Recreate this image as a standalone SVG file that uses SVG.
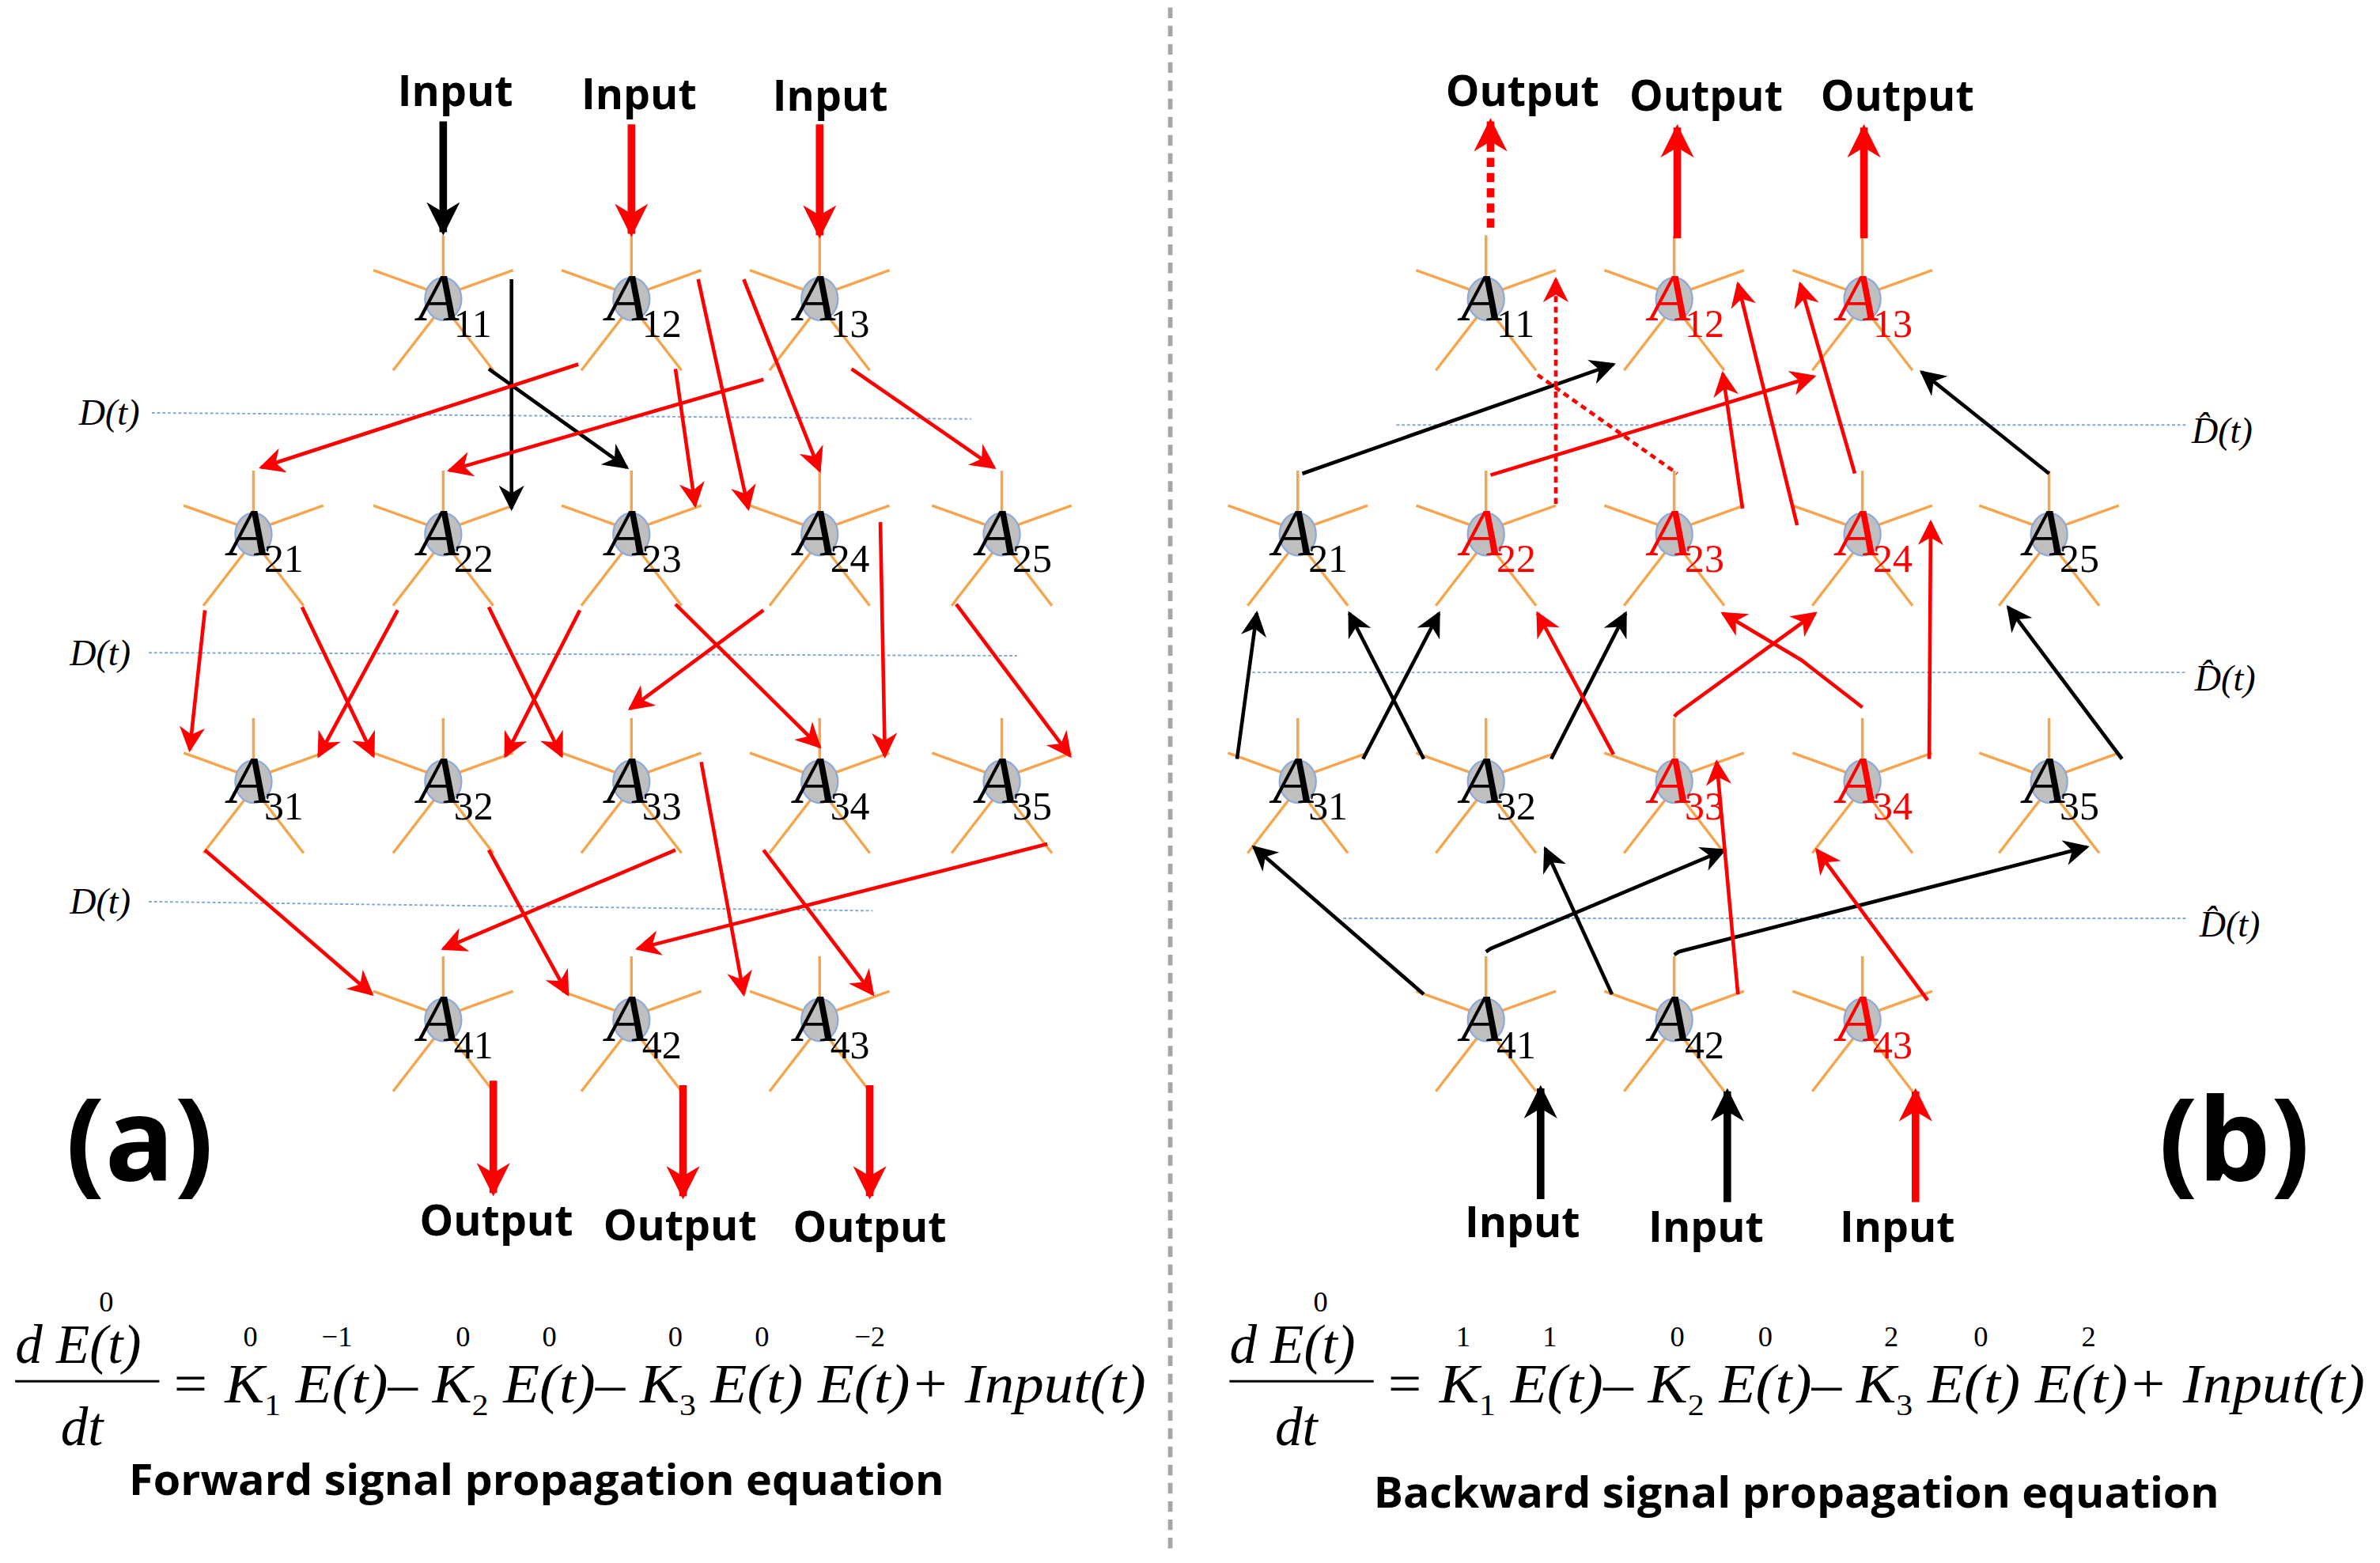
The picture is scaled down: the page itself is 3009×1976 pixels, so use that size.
<svg xmlns="http://www.w3.org/2000/svg" xmlns:xlink="http://www.w3.org/1999/xlink" width="3009" height="1976" viewBox="0 0 3009 1976">
<style>
.sp{stroke:#f6a54f;stroke-width:1.8;fill:none}
.nd{fill:#bfbfbf;stroke:#8eaadb;stroke-width:1.2}
.A{font-family:"Liberation Serif",serif;font-style:italic;font-size:44px;text-anchor:middle}
.s{font-family:"Liberation Serif",serif;font-size:26px}
.r{fill:#ff0000}
.k{fill:#000}
.lr{stroke:#ff0000;stroke-width:2.4;fill:none;marker-end:url(#ar)}
.lk{stroke:#000;stroke-width:2.4;fill:none;marker-end:url(#ak)}
.tr{stroke:#ff0000;stroke-width:5;fill:none;marker-end:url(#tr)}
.tk{stroke:#000;stroke-width:5;fill:none;marker-end:url(#tk)}
.dl{stroke:#7fa7d9;stroke-width:1;stroke-dasharray:2 1.5;fill:none}
.lab{font-family:"Open Sans","Liberation Sans",sans-serif;font-weight:bold;font-size:28px;text-anchor:middle}
.eq{font-family:"Liberation Serif",serif;font-style:italic;font-size:36px}
.sup{font-family:"Liberation Serif",serif;font-size:19px;text-anchor:middle}
.cap{font-family:"Open Sans","Liberation Sans",sans-serif;font-weight:bold;font-size:28px}
.dt{font-family:"Liberation Serif",serif;font-style:italic;font-size:24px}
</style>
<defs>
<marker id="ar" viewBox="0 0 10 10" refX="9" refY="5" markerWidth="7" markerHeight="7" orient="auto"><path d="M0,0 L10,5 L0,10 L3,5 z" fill="#ff0000"/></marker>
<marker id="ak" viewBox="0 0 10 10" refX="9" refY="5" markerWidth="7" markerHeight="7" orient="auto"><path d="M0,0 L10,5 L0,10 L3,5 z" fill="#000"/></marker>
<marker id="tr" viewBox="0 0 10 10" refX="9" refY="5" markerWidth="4.4" markerHeight="4.4" orient="auto"><path d="M0,0 L10,5 L0,10 L3,5 z" fill="#ff0000"/></marker>
<marker id="tk" viewBox="0 0 10 10" refX="9" refY="5" markerWidth="4.4" markerHeight="4.4" orient="auto"><path d="M0,0 L10,5 L0,10 L3,5 z" fill="#000"/></marker>
<g id="star">
<path class="sp" d="M0,-13 V-42 M-10,-6 L-46,-19 M10,-6 L46,-19 M-6,12 L-33,47 M6,12 L33,47"/>
<ellipse class="nd" cx="0" cy="0" rx="12" ry="14"/>
</g>
</defs>
<rect width="3009" height="1976" fill="#fff"/>
<g transform="scale(1.919)">
<line x1="771" y1="5" x2="771" y2="1025" stroke="#a6a6a6" stroke-width="3" stroke-dasharray="7 5"/>
<g id="dlines">
<line class="dl" x1="100" y1="272" x2="640" y2="276"/>
<line class="dl" x1="98" y1="430" x2="670" y2="432"/>
<line class="dl" x1="98" y1="594" x2="575" y2="600"/>
<line class="dl" x1="920" y1="280" x2="1440" y2="280"/>
<line class="dl" x1="825" y1="443" x2="1440" y2="443"/>
<line class="dl" x1="885" y1="605" x2="1440" y2="605"/>
<text class="dt" x="52" y="280">D(t)</text>
<text class="dt" x="46" y="438">D(t)</text>
<text class="dt" x="46" y="602">D(t)</text>
<text class="dt" x="1444" y="292">D̂(t)</text>
<text class="dt" x="1446" y="455">D̂(t)</text>
<text class="dt" x="1449" y="617">D̂(t)</text>
</g>
<g id="L11" transform="translate(292,197)"><use href="#star"/><text class="A k" x="-3" y="14">A</text><text class="s k" x="7" y="25">11</text></g>
<g id="L12" transform="translate(416,197)"><use href="#star"/><text class="A k" x="-3" y="14">A</text><text class="s k" x="7" y="25">12</text></g>
<g id="L13" transform="translate(540,197)"><use href="#star"/><text class="A k" x="-3" y="14">A</text><text class="s k" x="7" y="25">13</text></g>
<g id="L21" transform="translate(167,352)"><use href="#star"/><text class="A k" x="-3" y="14">A</text><text class="s k" x="7" y="25">21</text></g>
<g id="L22" transform="translate(292,352)"><use href="#star"/><text class="A k" x="-3" y="14">A</text><text class="s k" x="7" y="25">22</text></g>
<g id="L23" transform="translate(416,352)"><use href="#star"/><text class="A k" x="-3" y="14">A</text><text class="s k" x="7" y="25">23</text></g>
<g id="L24" transform="translate(540,352)"><use href="#star"/><text class="A k" x="-3" y="14">A</text><text class="s k" x="7" y="25">24</text></g>
<g id="L25" transform="translate(660,352)"><use href="#star"/><text class="A k" x="-3" y="14">A</text><text class="s k" x="7" y="25">25</text></g>
<g id="L31" transform="translate(167,515)"><use href="#star"/><text class="A k" x="-3" y="14">A</text><text class="s k" x="7" y="25">31</text></g>
<g id="L32" transform="translate(292,515)"><use href="#star"/><text class="A k" x="-3" y="14">A</text><text class="s k" x="7" y="25">32</text></g>
<g id="L33" transform="translate(416,515)"><use href="#star"/><text class="A k" x="-3" y="14">A</text><text class="s k" x="7" y="25">33</text></g>
<g id="L34" transform="translate(540,515)"><use href="#star"/><text class="A k" x="-3" y="14">A</text><text class="s k" x="7" y="25">34</text></g>
<g id="L35" transform="translate(660,515)"><use href="#star"/><text class="A k" x="-3" y="14">A</text><text class="s k" x="7" y="25">35</text></g>
<g id="L41" transform="translate(292,672)"><use href="#star"/><text class="A k" x="-3" y="14">A</text><text class="s k" x="7" y="25">41</text></g>
<g id="L42" transform="translate(416,672)"><use href="#star"/><text class="A k" x="-3" y="14">A</text><text class="s k" x="7" y="25">42</text></g>
<g id="L43" transform="translate(540,672)"><use href="#star"/><text class="A k" x="-3" y="14">A</text><text class="s k" x="7" y="25">43</text></g>
<g id="R11" transform="translate(979,197)"><use href="#star"/><text class="A k" x="-3" y="14">A</text><text class="s k" x="7" y="25">11</text></g>
<g id="R12" transform="translate(1103,197)"><use href="#star"/><text class="A r" x="-3" y="14">A</text><text class="s r" x="7" y="25">12</text></g>
<g id="R13" transform="translate(1227,197)"><use href="#star"/><text class="A r" x="-3" y="14">A</text><text class="s r" x="7" y="25">13</text></g>
<g id="R21" transform="translate(855,352)"><use href="#star"/><text class="A k" x="-3" y="14">A</text><text class="s k" x="7" y="25">21</text></g>
<g id="R22" transform="translate(979,352)"><use href="#star"/><text class="A r" x="-3" y="14">A</text><text class="s r" x="7" y="25">22</text></g>
<g id="R23" transform="translate(1103,352)"><use href="#star"/><text class="A r" x="-3" y="14">A</text><text class="s r" x="7" y="25">23</text></g>
<g id="R24" transform="translate(1227,352)"><use href="#star"/><text class="A r" x="-3" y="14">A</text><text class="s r" x="7" y="25">24</text></g>
<g id="R25" transform="translate(1350,352)"><use href="#star"/><text class="A k" x="-3" y="14">A</text><text class="s k" x="7" y="25">25</text></g>
<g id="R31" transform="translate(855,515)"><use href="#star"/><text class="A k" x="-3" y="14">A</text><text class="s k" x="7" y="25">31</text></g>
<g id="R32" transform="translate(979,515)"><use href="#star"/><text class="A k" x="-3" y="14">A</text><text class="s k" x="7" y="25">32</text></g>
<g id="R33" transform="translate(1103,515)"><use href="#star"/><text class="A r" x="-3" y="14">A</text><text class="s r" x="7" y="25">33</text></g>
<g id="R34" transform="translate(1227,515)"><use href="#star"/><text class="A r" x="-3" y="14">A</text><text class="s r" x="7" y="25">34</text></g>
<g id="R35" transform="translate(1350,515)"><use href="#star"/><text class="A k" x="-3" y="14">A</text><text class="s k" x="7" y="25">35</text></g>
<g id="R41" transform="translate(979,672)"><use href="#star"/><text class="A k" x="-3" y="14">A</text><text class="s k" x="7" y="25">41</text></g>
<g id="R42" transform="translate(1103,672)"><use href="#star"/><text class="A k" x="-3" y="14">A</text><text class="s k" x="7" y="25">42</text></g>
<g id="R43" transform="translate(1227,672)"><use href="#star"/><text class="A r" x="-3" y="14">A</text><text class="s r" x="7" y="25">43</text></g>
<g id="connectors">
<line class="tk" x1="292" y1="80" x2="292" y2="153"/>
<line class="tr" x1="416" y1="82" x2="416" y2="154"/>
<line class="tr" x1="540" y1="82" x2="540" y2="155"/>
<line class="tr" x1="325" y1="712" x2="325" y2="786"/>
<line class="tr" x1="450" y1="715" x2="450" y2="788"/>
<line class="tr" x1="573" y1="715" x2="573" y2="788"/>
<line class="lk" x1="337" y1="184" x2="337" y2="335"/>
<line class="lk" x1="322" y1="243" x2="413" y2="308"/>
<line class="lr" x1="381" y1="240" x2="172" y2="308"/>
<line class="lr" x1="460" y1="184" x2="493" y2="335"/>
<line class="lr" x1="445" y1="243" x2="458" y2="333"/>
<line class="lr" x1="503" y1="250" x2="296" y2="310"/>
<line class="lr" x1="490" y1="184" x2="540" y2="310"/>
<line class="lr" x1="561" y1="243" x2="655" y2="308"/>
<line class="lr" x1="135" y1="402" x2="125" y2="494"/>
<line class="lr" x1="199" y1="400" x2="246" y2="498"/>
<line class="lr" x1="262" y1="402" x2="210" y2="498"/>
<line class="lr" x1="322" y1="400" x2="370" y2="498"/>
<line class="lr" x1="382" y1="402" x2="333" y2="498"/>
<line class="lr" x1="445" y1="398" x2="540" y2="492"/>
<line class="lr" x1="503" y1="402" x2="415" y2="467"/>
<line class="lr" x1="580" y1="344" x2="583" y2="498"/>
<line class="lr" x1="630" y1="398" x2="705" y2="498"/>
<line class="lr" x1="135" y1="560" x2="245" y2="655"/>
<line class="lr" x1="322" y1="560" x2="374" y2="655"/>
<line class="lr" x1="445" y1="560" x2="292" y2="625"/>
<line class="lr" x1="462" y1="502" x2="490" y2="655"/>
<line class="lr" x1="503" y1="560" x2="575" y2="655"/>
<line class="lr" x1="690" y1="556" x2="420" y2="625"/>
<line stroke="#ff0000" stroke-width="5" stroke-dasharray="6 4" x1="982" y1="150" x2="982" y2="100"/>
<line class="tr" x1="982" y1="100" x2="982" y2="80"/>
<line class="tr" x1="1105" y1="157" x2="1105" y2="84"/>
<line class="tr" x1="1228" y1="157" x2="1228" y2="84"/>
<line class="tk" x1="1015" y1="790" x2="1015" y2="717"/>
<line class="tk" x1="1138" y1="792" x2="1138" y2="719"/>
<line class="tr" x1="1262" y1="792" x2="1262" y2="719"/>
<line class="lk" x1="858" y1="312" x2="1063" y2="240"/>
<line class="lr" stroke-dasharray="4 3" x1="1025" y1="332" x2="1025" y2="184"/>
<line stroke="#ff0000" stroke-width="2.4" stroke-dasharray="4 3" x1="1013" y1="247" x2="1105" y2="312"/>
<line class="lr" x1="982" y1="313" x2="1195" y2="248"/>
<line class="lr" x1="1148" y1="335" x2="1135" y2="246"/>
<line class="lr" x1="1184" y1="346" x2="1145" y2="187"/>
<line class="lr" x1="1222" y1="312" x2="1186" y2="187"/>
<line class="lk" x1="1350" y1="312" x2="1266" y2="245"/>
<line class="lk" x1="815" y1="500" x2="828" y2="404"/>
<line class="lk" x1="938" y1="500" x2="889" y2="404"/>
<line class="lk" x1="898" y1="500" x2="948" y2="404"/>
<line class="lk" x1="1022" y1="500" x2="1071" y2="404"/>
<line class="lr" x1="1063" y1="497" x2="1013" y2="404"/>
<polyline class="lr" points="1103,472 1105,470 1196,404"/>
<polyline class="lr" points="1227,466 1187,435 1135,404"/>
<line class="lr" x1="1271" y1="500" x2="1272" y2="344"/>
<line class="lk" x1="1398" y1="500" x2="1323" y2="400"/>
<line class="lk" x1="938" y1="655" x2="826" y2="558"/>
<polyline class="lk" points="979,627 982,625 1136,560"/>
<line class="lk" x1="1062" y1="655" x2="1018" y2="559"/>
<polyline class="lk" points="1103,629 1106,627 1375,558"/>
<line class="lr" x1="1145" y1="655" x2="1131" y2="502"/>
<line class="lr" x1="1270" y1="659" x2="1197" y2="560"/>
</g>
<g id="labels">
<text class="lab" x="300" y="70">Input</text>
<text class="lab" x="421" y="72">Input</text>
<text class="lab" x="547" y="73">Input</text>
<text class="lab" x="327" y="814">Output</text>
<text class="lab" x="448" y="817">Output</text>
<text class="lab" x="573" y="818">Output</text>
<text class="lab" x="1003" y="70">Output</text>
<text class="lab" x="1124" y="73">Output</text>
<text class="lab" x="1250" y="73">Output</text>
<text class="lab" x="1003" y="815">Input</text>
<text class="lab" x="1124" y="818">Input</text>
<text class="lab" x="1250" y="818">Input</text>
<text x="92" y="778" font-family="Open Sans,Liberation Sans,sans-serif" font-weight="bold" font-size="76" text-anchor="middle">(a)</text>
<text x="1472" y="778" font-family="Open Sans,Liberation Sans,sans-serif" font-weight="bold" font-size="76" text-anchor="middle">(b)</text>
</g>
<g id="eqA">
<text class="eq" x="10" y="898">d E(t)</text>
<line x1="10" y1="910" x2="105" y2="910" stroke="#000" stroke-width="1.5"/>
<text class="eq" x="40" y="952">dt</text>
<text class="sup" x="70" y="864">0</text>
<text class="eq" x="112" y="924" textLength="643" lengthAdjust="spacingAndGlyphs">= K<tspan font-style="normal" font-size="20" dy="8">1</tspan><tspan dy="-8"> E(t)– K</tspan><tspan font-style="normal" font-size="20" dy="8">2</tspan><tspan dy="-8"> E(t)– K</tspan><tspan font-style="normal" font-size="20" dy="8">3</tspan><tspan dy="-8"> E(t) E(t)+ Input(t)</tspan></text>
<text class="sup" x="165" y="887">0</text><text class="sup" x="222" y="887">−1</text>
<text class="sup" x="305" y="887">0</text><text class="sup" x="362" y="887">0</text>
<text class="sup" x="445" y="887">0</text><text class="sup" x="502" y="887">0</text><text class="sup" x="573" y="887">−2</text>
<text class="cap" x="85" y="985" textLength="537" lengthAdjust="spacingAndGlyphs">Forward signal propagation equation</text>
</g>
<g id="eqB">
<text class="eq" x="810" y="898">d E(t)</text>
<line x1="810" y1="910" x2="905" y2="910" stroke="#000" stroke-width="1.5"/>
<text class="eq" x="840" y="952">dt</text>
<text class="sup" x="870" y="864">0</text>
<text class="eq" x="912" y="924" textLength="646" lengthAdjust="spacingAndGlyphs">= K<tspan font-style="normal" font-size="20" dy="8">1</tspan><tspan dy="-8"> E(t)– K</tspan><tspan font-style="normal" font-size="20" dy="8">2</tspan><tspan dy="-8"> E(t)– K</tspan><tspan font-style="normal" font-size="20" dy="8">3</tspan><tspan dy="-8"> E(t) E(t)+ Input(t)</tspan></text>
<text class="sup" x="964" y="887">1</text><text class="sup" x="1021" y="887">1</text>
<text class="sup" x="1105" y="887">0</text><text class="sup" x="1163" y="887">0</text>
<text class="sup" x="1246" y="887">2</text><text class="sup" x="1305" y="887">0</text><text class="sup" x="1376" y="887">2</text>
<text class="cap" x="905" y="993" textLength="557" lengthAdjust="spacingAndGlyphs">Backward signal propagation equation</text>
</g>
</g>
</svg>
